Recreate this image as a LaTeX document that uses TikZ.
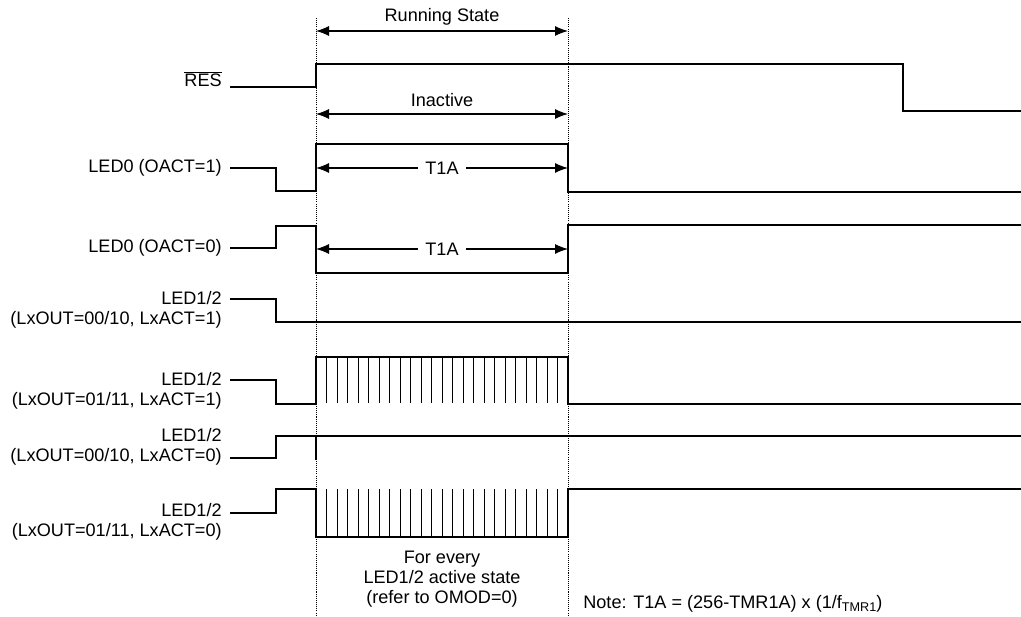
\documentclass[tikz,border=0pt]{standalone}
\usepackage{amsmath}
\usepackage{fontspec}
\setmainfont{Liberation Sans}
\usetikzlibrary{arrows.meta,positioning,calc}

\begin{document}
\begin{tikzpicture}[x=0.02cm, y=-0.02cm, >={Latex[length=0.26cm,width=0.2cm]}, font=\fontsize{10.3}{11.5}\selectfont]
	\tikzstyle{signal}=[line width=0.75pt, line join=miter]
	\tikzstyle{comb}=[line width=0.55pt]
	\tikzstyle{guide}=[line width=0.5pt, dash pattern=on 0.6pt off 0.6pt]
	\tikzstyle{siglabel}=[anchor=east, align=right, inner sep=0pt]
	\tikzstyle{span}=[<->, line width=0.6pt]
	\tikzstyle{spantext}=[fill=white, inner sep=4pt]
	\useasboundingbox (0,0) rectangle (1021,617);

	% guide lines
	\coordinate (g0) at (316,18);
	\coordinate (g1) at (568,18);
	\draw[guide] (g0) -- (316,617);
	\draw[guide] (g1) -- (568,617);

	% spans
	\coordinate (run0) at (316,31);
	\coordinate (run1) at (568,31);
	\draw[span] (run0) -- (run1);
	\node (run) at (442,17) {Running State};
	\coordinate (ina0) at (316,114);
	\coordinate (ina1) at (568,114);
	\draw[span] (ina0) -- (ina1);
	\node (ina) at (442,100) {Inactive};
	\coordinate (ta0) at (316,168);
	\coordinate (ta1) at (568,168);
	\draw[span] (ta0) -- (ta1) node[midway, spantext] (ta) {T1A};
	\coordinate (tb0) at (316,249);
	\coordinate (tb1) at (568,249);
	\draw[span] (tb0) -- (tb1) node[midway, spantext] (tb) {T1A};

	% labels
	\node[siglabel] (res)  at (222,79)  {$\overline{\text{RES}}$};
	\node[siglabel] (led0a) at (222,168) {LED0 (OACT=1)};
	\node[siglabel] (led0b) at (222,248) {LED0 (OACT=0)};
	\node[siglabel] (leda) at (222,310) {LED1/2\\(LxOUT=00/10, LxACT=1)};
	\node[siglabel] (ledb) at (222,391) {LED1/2\\(LxOUT=01/11, LxACT=1)};
	\node[siglabel] (ledc) at (222,447) {LED1/2\\(LxOUT=00/10, LxACT=0)};
	\node[siglabel] (ledd) at (222,522) {LED1/2\\(LxOUT=01/11, LxACT=0)};

	% waveforms
	\draw[signal] (230,87) -- (316,87) -- (316,64) -- (903,64) -- (903,111) -- (1021,111);
	\draw[signal] (230,168) -- (276,168) -- (276,191) -- (316,191) -- (316,144) -- (568,144) -- (568,192) -- (1021,192);
	\draw[signal] (230,248) -- (276,248) -- (276,226) -- (316,226) -- (316,273) -- (568,273) -- (568,225) -- (1021,225);
	\draw[signal] (230,299) -- (276,299) -- (276,322) -- (1021,322);
	\draw[signal] (230,380) -- (276,380) -- (276,404) -- (316,404) -- (316,357) -- (568,357) -- (568,404) -- (1021,404);
	\foreach \i in {1,...,23}
		\draw[comb] (316+\i*10.5,357) -- (316+\i*10.5,403);
	\draw[signal] (230,458) -- (276,458) -- (276,436) -- (1021,436);
	\draw[signal] (316,436) -- (316,460);
	\draw[signal] (230,513) -- (276,513) -- (276,489) -- (316,489) -- (316,537) -- (568,537) -- (568,489) -- (1021,489);
	\foreach \i in {1,...,23}
		\draw[comb] (316+\i*10.5,537) -- (316+\i*10.5,489);

	% notes
	\node[align=center] (every) at (442,579) {For every\\LED1/2 active state\\(refer to OMOD=0)};
	\node[anchor=west, inner sep=0pt] (note) at (583,604) {Note: T1A = (256-TMR1A) x (1/f\raisebox{-0.25ex}{\fontsize{7.2}{8}\selectfont TMR1})};
\end{tikzpicture}
\end{document}
